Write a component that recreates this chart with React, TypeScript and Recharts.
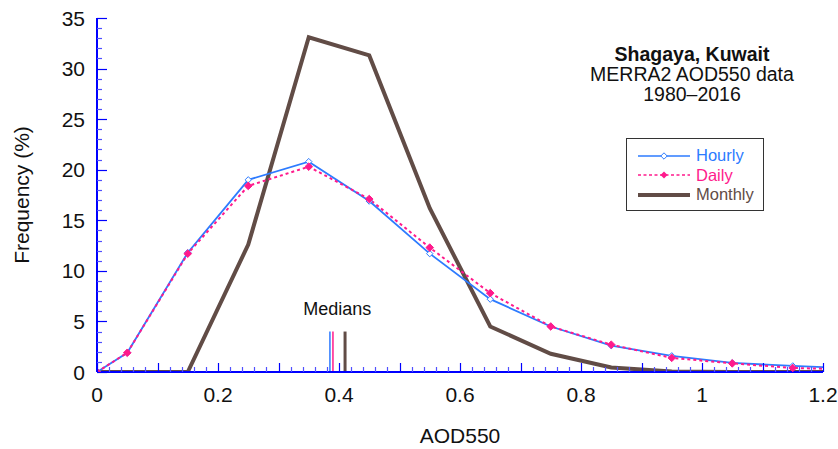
import {
  ComposedChart,
  Line,
  XAxis,
  YAxis,
  ReferenceLine,
  ReferenceDot,
  Legend,
} from "recharts";

// AOD550 bin centres (last one sits past the axis end and gets clipped)
const aodBins = [0, 0.05, 0.15, 0.25, 0.35, 0.45, 0.55, 0.65, 0.75, 0.85, 0.95, 1.05, 1.15, 1.25];
const hourlyFreq = [0, 1.9, 11.8, 19.0, 20.8, 16.9, 11.7, 7.2, 4.5, 2.6, 1.6, 0.9, 0.6, 0.35];
const dailyFreq = [0, 1.9, 11.7, 18.4, 20.3, 17.1, 12.3, 7.8, 4.5, 2.7, 1.4, 0.85, 0.4, 0.25];
const monthlyFreq = [0, 0, 0, 12.6, 33.1, 31.3, 16.2, 4.5, 1.8, 0.45, 0.05, 0, 0, 0];

const medianValues = [0.385, 0.39, 0.41];
const medianHeight = 4;

const xLabels = [0, 0.2, 0.4, 0.6, 0.8, 1, 1.2];
const yLabels = [0, 5, 10, 15, 20, 25, 30, 35];
// minor ticks: every 0.02 on x, every 1 on y
const xTicks = Array.from({ length: 61 }, (_, i) => (i * 2) / 100);
const yTicks = Array.from({ length: 36 }, (_, i) => i);

const HOURLY = "#2d7bff";
const DAILY = "#ff1a8c";
const MONTHLY = "#614c46";
const AXIS = "#0000ff";
const MINOR = "#5050ff";
const FONT = "'Liberation Sans', Arial, Helvetica, sans-serif";

const series = [
  { key: "hourly", name: "Hourly", color: HOURLY },
  { key: "daily", name: "Daily", color: DAILY },
  { key: "monthly", name: "Monthly", color: MONTHLY },
];

const chartData = aodBins.map((x, i) => ({
  x,
  hourly: hourlyFreq[i],
  daily: dailyFreq[i],
  monthly: monthlyFreq[i],
}));

const near = (v: number, step: number) =>
  Math.abs(v / step - Math.round(v / step)) < 1e-6;

const snap = (n: number) => Math.round(n) + 0.5;

const XTick = ({ x, y, payload, side }: any) => {
  const v = payload.value;
  const major = near(v, 0.1);
  const len = major ? 9 : 5;
  const dir = side === "bottom" ? -1 : 1;
  const sx = snap(x);
  const showLabel = side === "bottom" && xLabels.some((l) => Math.abs(l - v) < 1e-6);
  return (
    <g>
      <line x1={sx} x2={sx} y1={y} y2={y + dir * len} stroke={major ? AXIS : MINOR} strokeWidth={1.2} />
      {showLabel && (
        <text x={x} y={y + 30} textAnchor="middle" fontSize={21} fill="#111">
          {String(Math.round(v * 10) / 10)}
        </text>
      )}
    </g>
  );
};

const YTick = ({ x, y, payload, side }: any) => {
  const v = payload.value;
  const major = near(v, 5);
  const len = major ? 10 : 5;
  const dir = side === "left" ? 1 : -1;
  const sy = snap(y);
  const showLabel = side === "left" && yLabels.includes(v);
  return (
    <g>
      <line x1={x} x2={x + dir * len} y1={sy} y2={sy} stroke={major ? AXIS : MINOR} strokeWidth={1.2} />
      {showLabel && (
        <text x={x - 12} y={y} dy="0.36em" textAnchor="end" fontSize={21} fill="#111">
          {v}
        </text>
      )}
    </g>
  );
};

const OpenDiamond = ({ cx, cy, index }: any) => {
  if (cx == null || cy == null) return <g key={index} />;
  const r = 3.2;
  return (
    <path
      key={index}
      d={`M${cx},${cy - r}L${cx + r},${cy}L${cx},${cy + r}L${cx - r},${cy}Z`}
      fill="#fff"
      stroke={HOURLY}
      strokeWidth={1}
    />
  );
};

const FilledDiamond = ({ cx, cy, index }: any) => {
  if (cx == null || cy == null) return <g key={index} />;
  const r = 3.8;
  return (
    <path
      key={index}
      d={`M${cx},${cy - r}L${cx + r},${cy}L${cx},${cy + r}L${cx - r},${cy}Z`}
      fill={DAILY}
      stroke={DAILY}
      strokeWidth={1}
    />
  );
};

const LegendBox = () => (
  <div
    style={{
      width: 138,
      height: 73,
      boxSizing: "border-box",
      border: "1px solid #333",
      background: "#fff",
      paddingTop: 7,
      fontFamily: FONT,
    }}
  >
    {series.map((s) => (
      <div key={s.key} style={{ display: "flex", alignItems: "center", height: 19.5 }}>
        <svg width={52} height={12} style={{ marginLeft: 11, marginRight: 6 }}>
          {s.key === "hourly" && (
            <>
              <line x1={0} x2={52} y1={6} y2={6} stroke={HOURLY} strokeWidth={1.5} />
              <path d="M26,2.8L29.2,6L26,9.2L22.8,6Z" fill="#fff" stroke={HOURLY} />
            </>
          )}
          {s.key === "daily" && (
            <>
              <line x1={0} x2={52} y1={6} y2={6} stroke={DAILY} strokeWidth={1.5} strokeDasharray="3 2.5" />
              <path d="M26,2.5L29.5,6L26,9.5L22.5,6Z" fill={DAILY} />
            </>
          )}
          {s.key === "monthly" && (
            <line x1={0} x2={52} y1={6} y2={6} stroke={MONTHLY} strokeWidth={4} />
          )}
        </svg>
        <span style={{ color: s.color, fontSize: 16.5, lineHeight: "19px" }}>{s.name}</span>
      </div>
    ))}
  </div>
);

const axisLine = { stroke: AXIS, strokeWidth: 2 };

export default function App() {
  return (
    <div
      style={{
        position: "absolute",
        left: 0,
        top: 0,
        width: 838,
        height: 449,
        background: "#fff",
        fontFamily: FONT,
      }}
    >
      <ComposedChart
        width={838}
        height={449}
        data={chartData}
        margin={{ top: 18, right: 15, bottom: 0, left: 0 }}
      >
        <XAxis
          xAxisId="bottom"
          dataKey="x"
          type="number"
          domain={[0, 1.2]}
          allowDataOverflow
          ticks={xTicks}
          interval={0}
          height={77}
          tickSize={0}
          tickMargin={0}
          tickLine={false}
          axisLine={axisLine}
          tick={(p: any) => <XTick {...p} side="bottom" />}
          label={{ value: "AOD550", position: "insideBottom", offset: 6, fontSize: 21, fill: "#111" }}
        />
        <XAxis
          xAxisId="top"
          orientation="top"
          dataKey="x"
          type="number"
          domain={[0, 1.2]}
          allowDataOverflow
          ticks={xTicks}
          interval={0}
          height={0}
          tickSize={0}
          tickMargin={0}
          tickLine={false}
          axisLine={axisLine}
          tick={(p: any) => <XTick {...p} side="top" />}
        />
        <YAxis
          yAxisId="left"
          type="number"
          domain={[0, 35]}
          allowDataOverflow
          ticks={yTicks}
          interval={0}
          width={97}
          tickSize={0}
          tickMargin={0}
          tickLine={false}
          axisLine={axisLine}
          tick={(p: any) => <YTick {...p} side="left" />}
          label={{
            value: "Frequency (%)",
            angle: -90,
            position: "insideLeft",
            offset: 22,
            fontSize: 21,
            fill: "#111",
            style: { textAnchor: "middle" },
          }}
        />
        <YAxis
          yAxisId="right"
          orientation="right"
          type="number"
          domain={[0, 35]}
          allowDataOverflow
          ticks={yTicks}
          interval={0}
          width={0}
          tickSize={0}
          tickMargin={0}
          tickLine={false}
          axisLine={axisLine}
          tick={(p: any) => <YTick {...p} side="right" />}
        />

        {medianValues.map((m, i) => (
          <ReferenceLine
            key={i}
            xAxisId="bottom"
            yAxisId="left"
            segment={[
              { x: m, y: 0 },
              { x: m, y: medianHeight },
            ]}
            stroke={series[i].color}
            strokeWidth={i === 2 ? 3 : 1.5}
          />
        ))}
        <ReferenceDot
          xAxisId="bottom"
          yAxisId="left"
          x={0.397}
          y={6.3}
          r={0}
          fill="none"
          stroke="none"
          label={{ value: "Medians", position: "center", fontSize: 18, fill: "#111" }}
        />

        <Line
          xAxisId="bottom"
          yAxisId="left"
          dataKey="monthly"
          name="Monthly"
          stroke={MONTHLY}
          strokeWidth={4}
          dot={false}
          isAnimationActive={false}
        />
        <Line
          xAxisId="bottom"
          yAxisId="left"
          dataKey="hourly"
          name="Hourly"
          stroke={HOURLY}
          strokeWidth={1.8}
          dot={OpenDiamond}
          isAnimationActive={false}
        />
        <Line
          xAxisId="bottom"
          yAxisId="left"
          dataKey="daily"
          name="Daily"
          stroke={DAILY}
          strokeWidth={2}
          strokeDasharray="3 3"
          dot={FilledDiamond}
          isAnimationActive={false}
        />

        <Legend
          layout="vertical"
          align="center"
          verticalAlign="middle"
          content={<LegendBox />}
          wrapperStyle={{ left: 626, top: 138, width: 138, height: 73 }}
        />
      </ComposedChart>

      <div
        style={{
          position: "absolute",
          left: 572,
          top: 44,
          width: 240,
          textAlign: "center",
          fontSize: 19.5,
          lineHeight: "20px",
          color: "#111",
        }}
      >
        <div style={{ fontWeight: "bold" }}>Shagaya, Kuwait</div>
        <div>MERRA2 AOD550 data</div>
        <div>1980–2016</div>
      </div>
    </div>
  );
}
